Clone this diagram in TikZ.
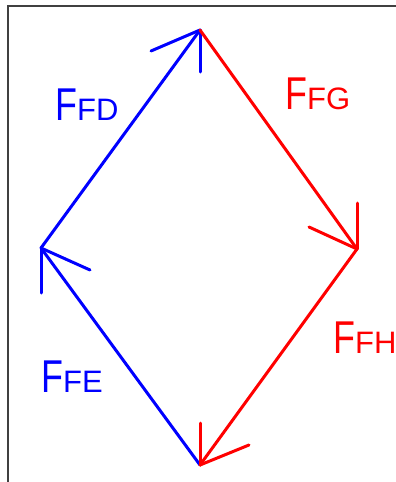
\documentclass[tikz,border=0pt]{standalone}
\usepackage{fontspec}
\newfontfamily\lblfont[FakeStretch=0.78]{Liberation Sans}
\newfontfamily\lblsmallfont{Liberation Sans}
\usetikzlibrary{positioning}
\definecolor{forceblue}{RGB}{0, 0, 255}
\definecolor{forcered}{RGB}{255, 0, 0}
\newcommand{\forcelbl}[1]{{\fontsize{46}{46}\selectfont F}{\lblsmallfont\fontsize{31}{31}\selectfont #1}}
\tikzset{
  vec/.style={line width=3pt, line cap=round, line join=round, color=#1},
  vec/.default=forceblue,
  frameline/.style={line width=1.6pt, color=black!75},
  lbl/.style={inner sep=0pt, anchor=base west, font=\lblfont, text=#1},
  lbl/.default=forceblue,
}
\begin{document}
\begin{tikzpicture}[x=1pt, y=-1pt]
  \useasboundingbox (0,0) rectangle (396,482);
  % frame of the figure
  \draw[frameline] (8,482) -- (8,6) -- (396,6);

  % joints of the force polygon
  \coordinate (top) at (200,30);
  \coordinate (right) at (357,249);
  \coordinate (bottom) at (200,465);
  \coordinate (left) at (41,248);

  % blue vectors
  \draw[vec] (left) -- (top);
  \draw[vec] (top) -- ++(0,42);
  \draw[vec] (top) -- ++(-49,21);
  \draw[vec] (bottom) -- (left);
  \draw[vec] (left) -- ++(0,45);
  \draw[vec] (left) -- ++(49,22);

  % red vectors
  \draw[vec=forcered] (top) -- (right);
  \draw[vec=forcered] (right) -- ++(0,-46);
  \draw[vec=forcered] (right) -- ++(-48,-22);
  \draw[vec=forcered] (right) -- (bottom);
  \draw[vec=forcered] (bottom) -- ++(0,-42);
  \draw[vec=forcered] (bottom) -- ++(49,-20);

  % labels
  \node[lbl] (ffd) at (55,120) {\forcelbl{FD}};
  \node[lbl=forcered] (ffg) at (285,109) {\forcelbl{FG}};
  \node[lbl=forcered] (ffh) at (333,353) {\forcelbl{FH}};
  \node[lbl] (ffe) at (41,392) {\forcelbl{FE}};
\end{tikzpicture}
\end{document}
